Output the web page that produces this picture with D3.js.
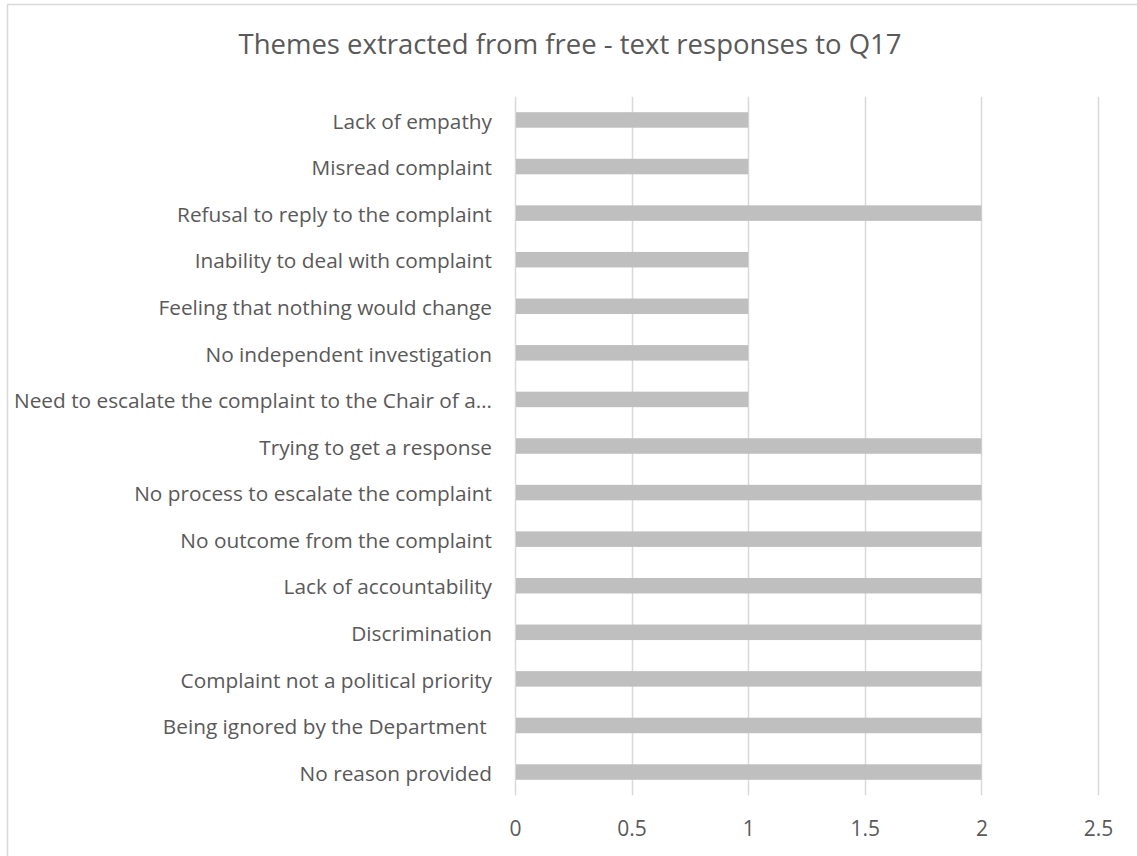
<!DOCTYPE html>
<html>
<head>
<meta charset="utf-8">
<script src="https://cdn.jsdelivr.net/npm/d3@7"></script>
<style>
  html, body { margin: 0; padding: 0; background: #fff; }
  svg { display: block; }
  text { font-family: "Open Sans", "Noto Sans", sans-serif; fill: #595959; }
</style>
</head>
<body>
<svg id="chart" width="1137" height="856"></svg>
<script>
// Themes listed top to bottom, with the number of responses for each
const categories = [
  "Lack of empathy",
  "Misread complaint",
  "Refusal to reply to the complaint",
  "Inability to deal with complaint",
  "Feeling that nothing would change",
  "No independent investigation",
  "Need to escalate the complaint to the Chair of a…",
  "Trying to get a response",
  "No process to escalate the complaint",
  "No outcome from the complaint",
  "Lack of accountability",
  "Discrimination",
  "Complaint not a political priority",
  "Being ignored by the Department ",
  "No reason provided"
];
const counts = [1, 1, 2, 1, 1, 1, 1, 2, 2, 2, 2, 2, 2, 2, 2];
const xTicks = [0, 0.5, 1, 1.5, 2, 2.5];
const titleText = "Themes extracted from free - text responses to Q17";

const svg = d3.select("#chart");
const W = 1137, H = 856;
const plot = { left: 515, right: 1098, top: 96.7, bottom: 795.3 };
const font = "'Open Sans', 'Noto Sans', sans-serif";

// Outer chart frame (extends past the visible area on the right and bottom)
svg.append("rect")
  .attr("x", 7.5).attr("y", 4.5)
  .attr("width", W + 20).attr("height", H + 20)
  .attr("fill", "none").attr("stroke", "#D9D9D9").attr("stroke-width", 1.5);

const x = d3.scaleLinear().domain([0, 2.5]).range([plot.left, plot.right]);
const y = d3.scaleBand().domain(categories).range([plot.top, plot.bottom])
  .paddingInner(0.667).paddingOuter(0.333);

// Title
svg.append("text")
  .attr("x", 570).attr("y", 54)
  .attr("text-anchor", "middle")
  .style("font-size", "27.5px")
  .text(titleText);

// Vertical gridlines
svg.append("g").selectAll("line").data(xTicks).join("line")
  .attr("x1", d => Math.round(x(d)) + 0.5).attr("x2", d => Math.round(x(d)) + 0.5)
  .attr("y1", plot.top).attr("y2", plot.bottom)
  .attr("stroke", "#D9D9D9").attr("stroke-width", 1.5);

// Bars
svg.append("g").selectAll("rect").data(categories).join("rect")
  .attr("x", x(0) + 1)
  .attr("y", d => y(d))
  .attr("width", (d, i) => x(counts[i]) - x(0) - 1)
  .attr("height", y.bandwidth())
  .attr("fill", "#BFBFBF");

// Category labels
const yAxis = svg.append("g")
  .attr("transform", `translate(${plot.left},0)`)
  .call(d3.axisLeft(y).tickSize(0).tickPadding(23));
yAxis.select(".domain").remove();
yAxis.selectAll("text")
  .attr("dy", "0.42em")
  .style("font-size", "20.8px")
  .style("white-space", "pre")
  .attr("fill", "#595959")
  .style("font-family", font);

// Value axis labels
const xAxis = svg.append("g")
  .attr("transform", `translate(0,${plot.bottom})`)
  .call(d3.axisBottom(x).tickValues(xTicks).tickFormat(d3.format("")).tickSize(0).tickPadding(26));
xAxis.select(".domain").remove();
xAxis.selectAll("text")
  .style("font-size", "21px")
  .attr("fill", "#595959")
  .style("font-family", font);
</script>
</body>
</html>
